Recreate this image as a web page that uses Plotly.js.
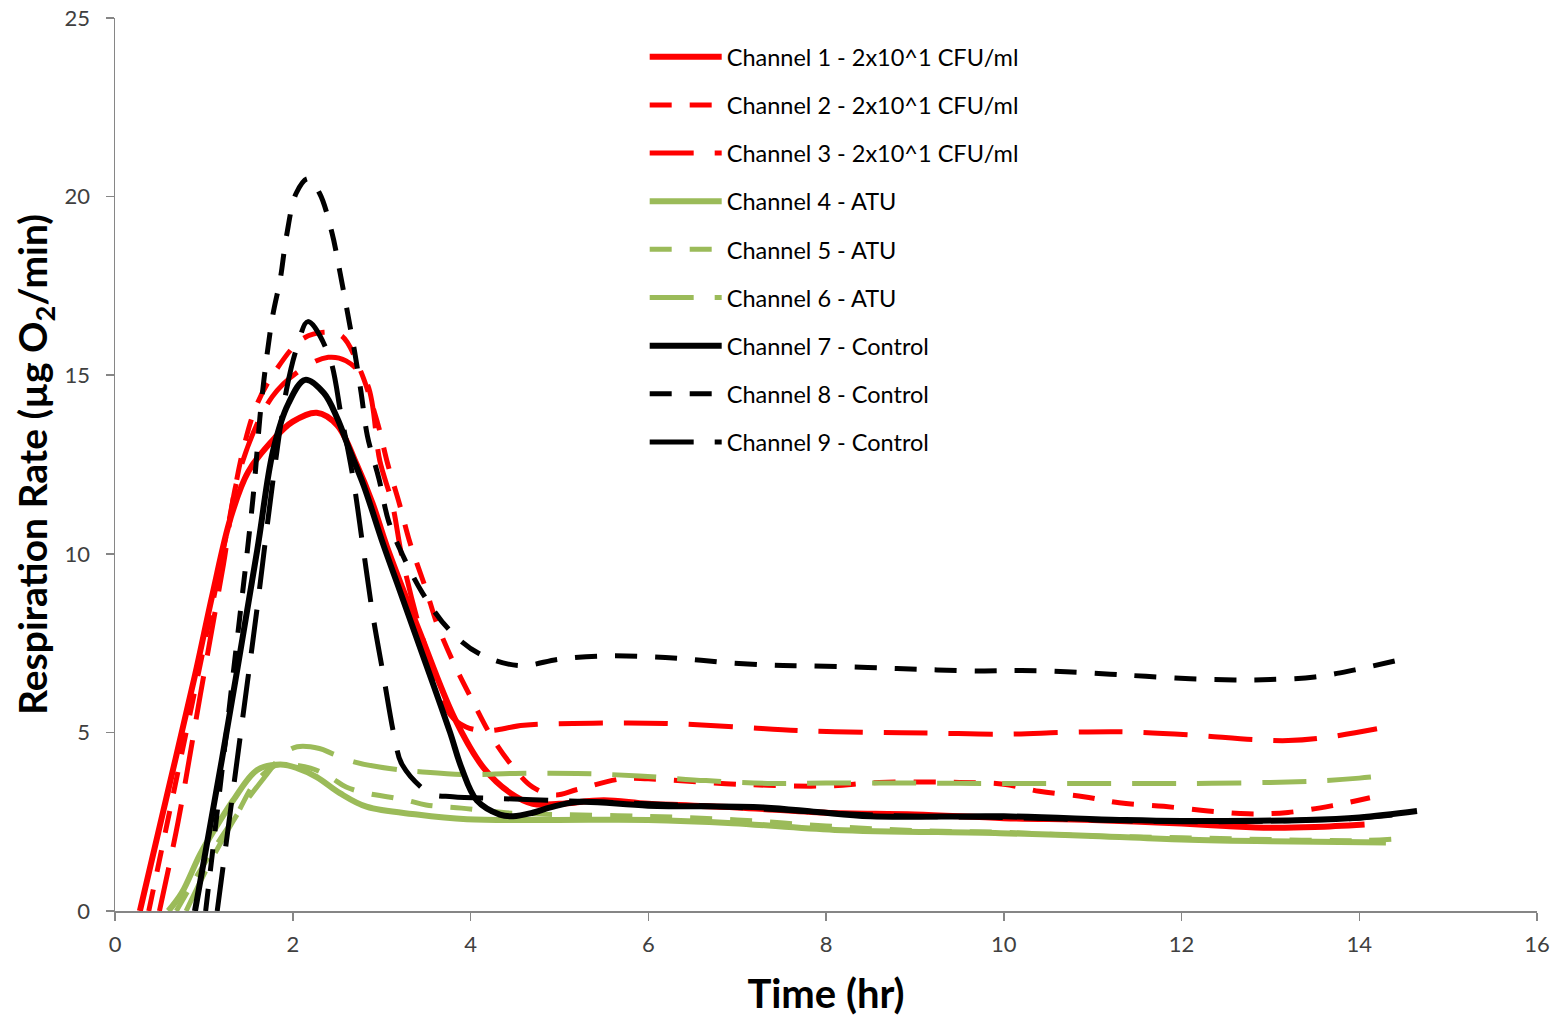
<!DOCTYPE html>
<html>
<head>
<meta charset="utf-8">
<script src="https://cdn.plot.ly/plotly-3.0.1.min.js"></script>
<style>
html,body{margin:0;padding:0;background:#fff;}
#chart{width:1564px;height:1021px;}
</style>
</head>
<body>
<div id="chart"></div>
<script>
// ---- Data (time in hr, rate in µg O2/min) ----
const seriesNames = [
  "Channel 1 - 2x10^1 CFU/ml",
  "Channel 2 - 2x10^1 CFU/ml",
  "Channel 3 - 2x10^1 CFU/ml",
  "Channel 4 - ATU",
  "Channel 5 - ATU",
  "Channel 6 - ATU",
  "Channel 7 - Control",
  "Channel 8 - Control",
  "Channel 9 - Control"
];

const ch1_t = [0.28,0.6,0.9,1.1,1.3,1.5,1.8,2.0,2.27,2.5,2.72,2.9,3.06,3.43,3.82,4.15,4.45,4.7,5.0,5.5,6,7,8,9,10,11,12,12.5,13,13.5,14.06];
const ch1_v = [0,3.4,6.6,8.9,11.0,12.3,13.25,13.7,13.95,13.6,12.5,11.4,10.2,7.8,5.4,4.0,3.3,3.0,3.0,3.1,3.0,2.9,2.75,2.7,2.6,2.55,2.45,2.38,2.33,2.35,2.42];

const ch2_t = [0.38,0.7,1.0,1.25,1.45,1.6,1.8,2.1,2.35,2.55,2.75,2.95,3.07,3.2,3.32,3.5,3.62,3.8,4.02,4.24,4.48,4.7,4.95,5.2,5.7,6.0,7.0,8.0,8.6,9.5,10.0,10.4,10.9,11.3,11.8,12.3,12.75,13.2,13.7,14.12];
const ch2_v = [0,3.8,7.4,10.5,13.0,14.2,15.1,16.0,16.2,16.1,15.2,13.7,12.5,11.4,10.3,9.0,8.06,7.0,5.9,4.87,4.03,3.47,3.25,3.4,3.7,3.7,3.55,3.5,3.6,3.6,3.55,3.35,3.2,3.03,2.93,2.8,2.72,2.76,2.95,3.17];

const ch3_t = [0.5,0.71,0.96,1.22,1.4,1.77,2.12,2.4,2.6,2.83,2.98,3.12,3.23,3.43,3.6,3.77,3.95,4.2,4.6,5.5,6.2,7.0,7.7,8.5,9.2,10.0,10.7,11.3,12.1,12.8,13.2,13.6,14.2];
const ch3_v = [0,2.5,6.05,9.7,12.3,14.4,15.2,15.5,15.4,14.8,12.6,11.4,9.9,7.9,6.6,5.5,5.15,5.05,5.2,5.26,5.25,5.15,5.05,5.0,4.98,4.95,5.0,5.02,4.93,4.8,4.77,4.85,5.1];

const ch4_t = [0.6,0.75,0.96,1.15,1.33,1.6,1.86,2.05,2.27,2.53,2.83,3.4,3.96,4.9,6.0,6.95,8.1,9.96,11.0,12.0,13.0,14.3];
const ch4_v = [0,0.5,1.6,2.4,3.1,3.95,4.1,4.0,3.75,3.3,2.92,2.7,2.57,2.55,2.55,2.46,2.27,2.18,2.1,2.0,1.95,1.92];

const ch5_t = [0.69,0.9,1.18,1.38,1.55,1.75,1.85,2.2,2.42,2.6,2.83,3.06,3.28,3.5,3.9,4.4,5.0,6.0,7.0,8.0,9.0,10.0,11.0,12.0,13.0,14.0,14.42];
const ch5_v = [0,0.9,2.0,2.75,3.5,4.0,4.1,4.0,3.75,3.47,3.3,3.2,3.1,2.97,2.88,2.75,2.7,2.65,2.55,2.38,2.25,2.2,2.1,2.05,2.0,1.97,2.02];

const ch6_t = [0.8,1.1,1.4,1.7,1.9,2.05,2.3,2.45,2.7,3.2,3.43,3.96,4.5,5.2,5.9,6.65,7.4,8.0,9.0,10.0,11.0,12.0,13.0,13.6,14.0,14.32];
const ch6_v = [0,1.5,2.8,3.8,4.4,4.6,4.55,4.4,4.17,3.95,3.9,3.82,3.85,3.85,3.78,3.65,3.57,3.58,3.58,3.57,3.57,3.57,3.6,3.65,3.72,3.8];

const ch7_t = [0.9,1.2,1.6,1.78,1.95,2.14,2.35,2.5,2.64,2.8,3.02,3.2,3.4,3.58,3.77,3.9,4.07,4.33,4.48,4.7,4.9,5.2,6.0,7.3,7.9,8.5,10.0,11.3,12.0,13.4,14.0,14.65];
const ch7_v = [0,4.2,10.1,12.9,14.2,14.87,14.5,13.8,12.9,11.9,10.25,9.0,7.6,6.35,5.0,4.0,3.1,2.7,2.65,2.75,2.9,3.05,2.95,2.9,2.77,2.65,2.65,2.55,2.52,2.55,2.62,2.8];

const ch8_t = [1.02,1.3,1.55,1.65,1.77,1.86,1.93,2.04,2.17,2.3,2.44,2.53,2.62,2.7,2.77,2.84,2.97,3.08,3.23,3.46,3.75,4.1,4.55,5.0,5.5,6.0,6.45,6.9,7.4,7.8,8.3,8.8,9.25,9.75,10.2,10.7,11.2,11.6,12.1,12.6,13.0,13.5,13.95,14.4,14.57];
const ch8_v = [0,6.0,11.5,14.3,16.6,17.7,18.9,20.1,20.5,20.1,19.0,17.9,16.7,15.6,14.5,13.3,12.1,10.9,10.0,8.9,7.9,7.2,6.87,7.05,7.14,7.12,7.05,6.95,6.88,6.86,6.83,6.79,6.75,6.72,6.73,6.7,6.63,6.57,6.5,6.47,6.48,6.55,6.75,7.0,7.1];

const ch9_t = [1.15,1.41,1.6,1.78,1.93,2.05,2.17,2.4,2.55,2.68,2.79,2.9,3.02,3.15,3.23,3.54,3.8,4.3,4.9,5.5,6.0,7.0,8.0,9.0,10.0,11.0,12.0,13.0,14.0,14.6];
const ch9_v = [0,4.9,8.5,12.1,14.6,15.8,16.5,15.6,13.8,12.1,10.2,8.3,6.6,4.8,4.1,3.3,3.2,3.15,3.1,3.05,3.0,2.9,2.75,2.65,2.62,2.55,2.5,2.52,2.6,2.75];

const xTicks = [0,2,4,6,8,10,12,14,16];
const yTicks = [0,5,10,15,20,25];

// ---- Styles ----
const RED = "#ff0000", GREEN = "#9bbb59", BLACK = "#000000";
const DASH = "22px,18px";
const LDD = "44px,21px";
const styles = [
  {c:RED,   d:"solid", w:6},
  {c:RED,   d:DASH,    w:5},
  {c:RED,   d:LDD,     w:5},
  {c:GREEN, d:"solid", w:6},
  {c:GREEN, d:DASH,    w:5},
  {c:GREEN, d:LDD,     w:5},
  {c:BLACK, d:"solid", w:6},
  {c:BLACK, d:DASH,    w:5},
  {c:BLACK, d:LDD,     w:5}
];
const xs = [ch1_t,ch2_t,ch3_t,ch4_t,ch5_t,ch6_t,ch7_t,ch8_t,ch9_t];
const ys = [ch1_v,ch2_v,ch3_v,ch4_v,ch5_v,ch6_v,ch7_v,ch8_v,ch9_v];

const traces = seriesNames.map((n,i)=>({
  type:"scatter", mode:"lines", name:n, x:xs[i], y:ys[i],
  legendgroup:"g"+i,
  line:{color:styles[i].c, dash:styles[i].d, width:styles[i].w, shape:"spline", smoothing:1}
}));

const FONT = "Lato, 'Open Sans', sans-serif";
const layout = {
  width:1564, height:1021,
  paper_bgcolor:"#fff", plot_bgcolor:"#fff",
  margin:{l:115, r:27, t:18, b:110},
  showlegend:true,
  legend:{
    x:0.3725, y:0.981, xanchor:"left", yanchor:"top",
    font:{family:FONT, size:23.5, color:"#000"},
    bgcolor:"rgba(0,0,0,0)", tracegroupgap:14.6, itemwidth:72
  },
  xaxis:{
    range:[0,16], tickvals:xTicks, ticktext:xTicks.map(String),
    showgrid:false, zeroline:false, showline:true, linecolor:"#868686", linewidth:1.5,
    ticks:"outside", ticklen:8, tickcolor:"#868686", tickwidth:1.5,
    ticklabelstandoff:5,
    tickfont:{family:FONT, size:22, color:"#404040"},
    title:{text:"<b>Time (hr)</b>", font:{family:FONT, size:40, color:"#000"}, standoff:24}
  },
  yaxis:{
    range:[0,25], tickvals:yTicks, ticktext:yTicks.map(String),
    showgrid:false, zeroline:false, showline:true, linecolor:"#868686", linewidth:1.5,
    ticks:"outside", ticklen:8, tickcolor:"#868686", tickwidth:1.5,
    ticklabelstandoff:11,
    tickfont:{family:FONT, size:22, color:"#404040"},
    title:{text:"<b>Respiration Rate (µg O<sub>2</sub>/min)</b>", font:{family:FONT, size:39, color:"#000"}, standoff:5}
  }
};

Plotly.newPlot("chart", traces, layout, {displayModeBar:false, staticPlot:true});
</script>
</body>
</html>
